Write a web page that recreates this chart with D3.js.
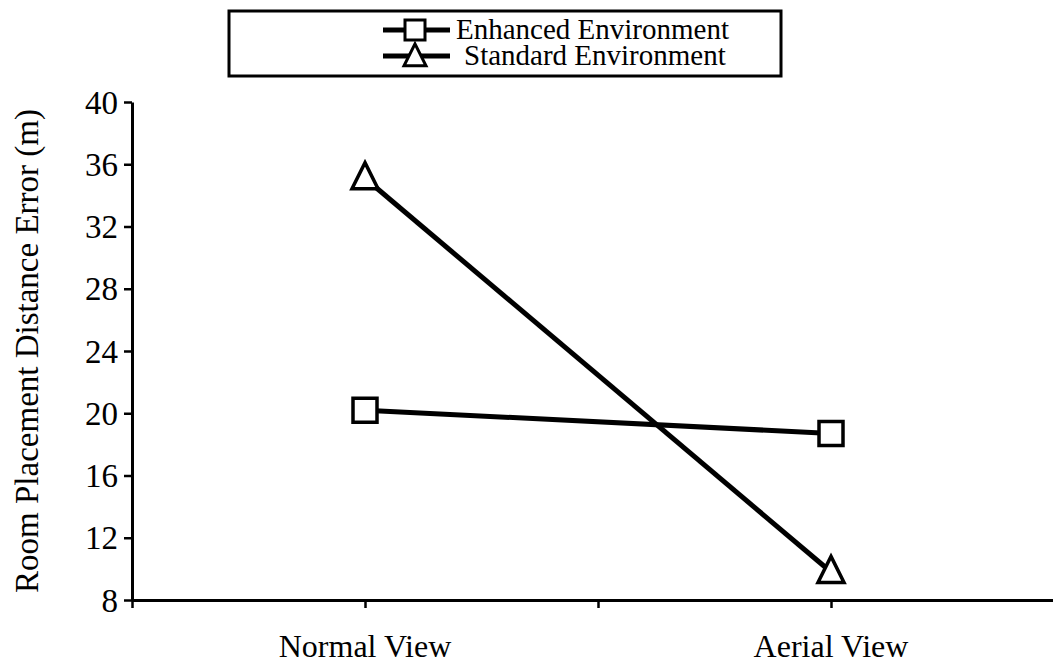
<!DOCTYPE html>
<html>
<head>
<meta charset="utf-8">
<script src="https://cdn.jsdelivr.net/npm/d3@7"></script>
<style>
  body { margin: 0; background: #fff; }
  svg { display: block; }
</style>
</head>
<body>
<div id="chart"></div>
<script>
// data
const categories = ['Normal View', 'Aerial View'];
const categoryPos = [1, 3];          // slot on the x axis
const enhanced = [20.2, 18.7];
const standard = [35.1, 9.8];
const yTicks = [8, 12, 16, 20, 24, 28, 32, 36, 40];
const xTicks = [0, 1, 2, 3];
const seriesNames = ['Enhanced Environment', 'Standard Environment'];

const FONT = '"Liberation Serif", "Times New Roman", serif';
const W = 1053, H = 666;
const margin = {top: 102, left: 132, bottom: 66};

const svg = d3.select('#chart').append('svg')
    .attr('width', W)
    .attr('height', H)
    .attr('font-family', FONT);

const y = d3.scaleLinear().domain([8, 40]).range([600, 102]);
const x = d3.scaleLinear().domain([0, 4]).range([margin.left, margin.left + 4 * 233]);

// y axis
const yAxis = svg.append('g')
    .attr('transform', `translate(${margin.left},0)`)
    .call(d3.axisLeft(y).tickValues(yTicks).tickSize(8).tickSizeOuter(0).tickPadding(6));
yAxis.attr('font-family', FONT);
yAxis.select('.domain').attr('stroke-width', 3);
yAxis.selectAll('.tick line').attr('stroke-width', 2.5);
yAxis.selectAll('.tick text')
    .attr('font-family', FONT)
    .attr('font-size', 33)
    .attr('dy', '0.34em');

// x axis
const xAxis = svg.append('g')
    .attr('transform', `translate(0,${y(8)})`)
    .call(d3.axisBottom(x).tickValues(xTicks).tickSize(8).tickSizeOuter(0).tickFormat(''));
xAxis.select('.domain').attr('stroke-width', 3);
xAxis.selectAll('.tick line').attr('stroke-width', 2.5);

svg.append('g').selectAll('text')
    .data(categories)
    .enter().append('text')
    .attr('x', (d, i) => x(categoryPos[i]))
    .attr('y', 657)
    .attr('text-anchor', 'middle')
    .attr('font-family', FONT)
    .attr('font-size', 32)
    .text(d => d);

// y title
svg.append('text')
    .attr('transform', `translate(38,${(102 + 600) / 2}) rotate(-90)`)
    .attr('text-anchor', 'middle')
    .attr('font-family', FONT)
    .attr('font-size', 33)
    .text('Room Placement Distance Error (m)');

// lines
const line = d3.line()
    .x((d, i) => x(categoryPos[i]))
    .y(d => y(d));

svg.append('path').datum(enhanced)
    .attr('d', line)
    .attr('fill', 'none')
    .attr('stroke', '#000')
    .attr('stroke-width', 5);
svg.append('path').datum(standard)
    .attr('d', line)
    .attr('fill', 'none')
    .attr('stroke', '#000')
    .attr('stroke-width', 5);

const squareSym = d3.symbol().type(d3.symbolSquare).size(24 * 24);
const triPath = function (s) {
    // triangle, centre at 0,0
    return `M0,${-s * 0.6}L${s / 2},${s * 0.4}L${-s / 2},${s * 0.4}Z`;
};

svg.append('g').selectAll('path')
    .data(enhanced)
    .enter().append('path')
    .attr('d', squareSym)
    .attr('transform', (d, i) => `translate(${x(categoryPos[i])},${y(d)})`)
    .attr('fill', '#fff')
    .attr('stroke', '#000')
    .attr('stroke-width', 3.5);

svg.append('g').selectAll('path')
    .data(standard)
    .enter().append('path')
    .attr('d', triPath(26))
    .attr('transform', (d, i) => `translate(${x(categoryPos[i])},${y(d)})`)
    .attr('fill', '#fff')
    .attr('stroke', '#000')
    .attr('stroke-width', 3.5);

// legend
const lg = svg.append('g');
lg.append('rect')
    .attr('x', 229).attr('y', 11)
    .attr('width', 552).attr('height', 65)
    .attr('fill', '#fff')
    .attr('stroke', '#000')
    .attr('stroke-width', 3);

const rowsY = [30, 56];
seriesNames.forEach(function (name, i) {
    const cy = rowsY[i];
    lg.append('line')
        .attr('x1', 383).attr('x2', 450)
        .attr('y1', cy).attr('y2', cy)
        .attr('stroke', '#000')
        .attr('stroke-width', 5);
    if (i === 0) {
        lg.append('path')
            .attr('d', d3.symbol().type(d3.symbolSquare).size(20 * 20))
            .attr('transform', `translate(415,${cy})`)
            .attr('fill', '#fff').attr('stroke', '#000').attr('stroke-width', 3);
    } else {
        lg.append('path')
            .attr('d', triPath(22))
            .attr('transform', `translate(415,${cy + 1})`)
            .attr('fill', '#fff').attr('stroke', '#000').attr('stroke-width', 3);
    }
    lg.append('text')
        .attr('x', i === 0 ? 456 : 464)
        .attr('y', cy + 9)
        .attr('font-family', FONT)
        .attr('font-size', 29)
        .text(name);
});
</script>
</body>
</html>
